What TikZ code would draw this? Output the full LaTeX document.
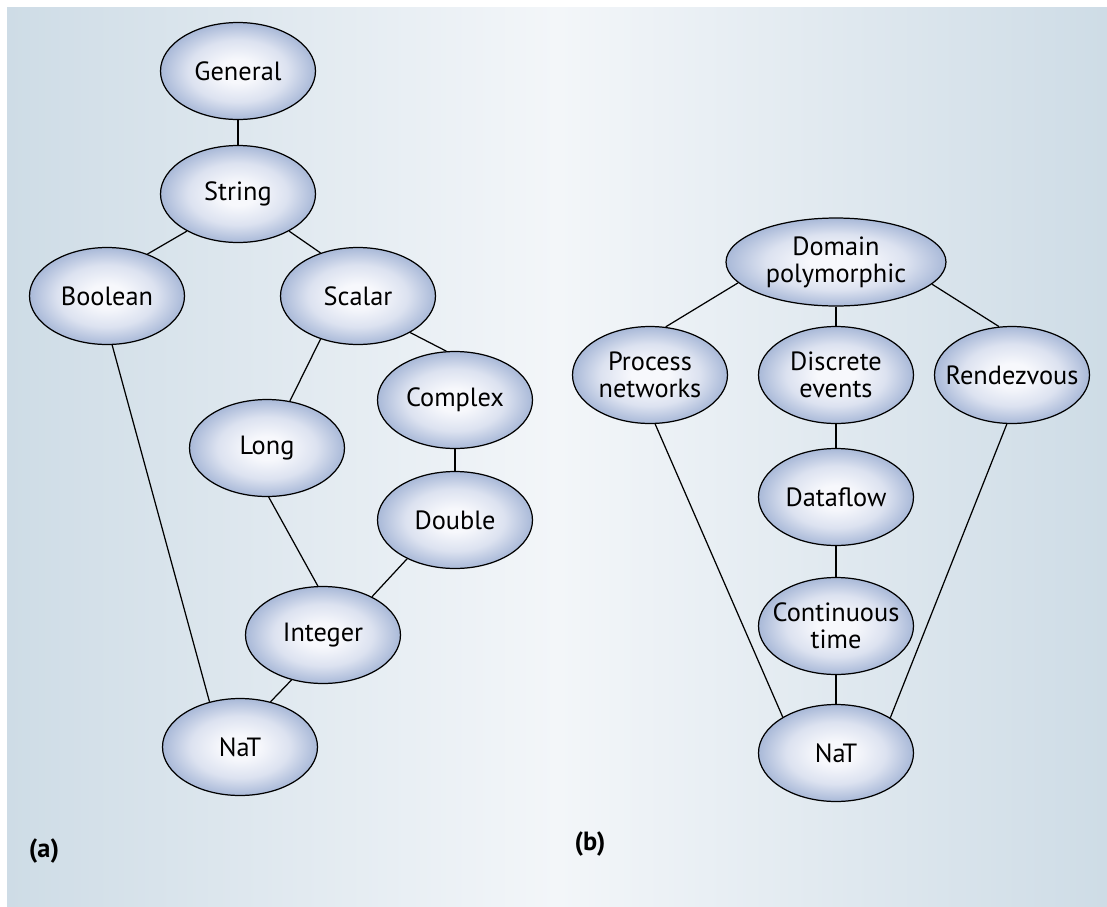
\documentclass[tikz,border=0pt]{standalone}
\usepackage{fontspec}
\setmainfont{PT Sans}
\usetikzlibrary{shapes.geometric}

\definecolor{ovalout}{HTML}{A9B9D8}
\definecolor{ovalmid}{HTML}{DCE2F0}
\definecolor{ovalin}{HTML}{F7F8FC}
\definecolor{bgside}{HTML}{CEDCE6}
\definecolor{bgmid}{HTML}{F3F6F9}

\pgfdeclareradialshading{ovalshade}{\pgfpoint{0bp}{0bp}}{%
  color(0bp)=(ovalin); color(6bp)=(ovalin); color(16bp)=(ovalmid);
  color(25bp)=(ovalout); color(50bp)=(ovalout)}

\tikzset{
  oval/.style={ellipse, draw=black, line width=0.7pt,
    inner xsep=-0.3cm, inner ysep=0pt,
    minimum width=3.1cm, minimum height=1.94cm, shading=ovalshade,
    align=center, font=\fontsize{15}{15.4}\selectfont},
  wide/.style={minimum width=4.4cm, minimum height=1.76cm},
  tag/.style={font=\fontsize{15}{15.4}\selectfont\bfseries},
  link/.style={line width=0.7pt}
}

\begin{document}
\begin{tikzpicture}[x=0.02cm,y=-0.02cm]
\useasboundingbox (0,0) rectangle (1107,907);
\fill[white] (0,0) rectangle (1107,907);
\shade[left color=bgside, right color=bgside, middle color=bgmid] (7,7) rectangle (1107,907);

% (a)
\node[oval] (gen)  at (238,71)  {General};
\node[oval] (str)  at (238,194) {String};
\node[oval] (bool) at (107,296) {Boolean};
\node[oval] (scal) at (358,296) {Scalar};
\node[oval] (cplx) at (455,400) {Complex};
\node[oval] (long) at (267,448) {Long};
\node[oval] (dbl)  at (455,520) {Double};
\node[oval] (int)  at (323,635) {Integer};
\node[oval] (nata) at (240,747) {NaT};
\node[tag] (laba) at (44,851) {(a)};

\foreach \a/\b in {gen.-90/str.90, str.-144/bool.46, str.-36/scal.131,
    scal.-131/long.64, scal.-35/cplx.100, cplx.-90/dbl.90,
    long.-88/int.96, dbl.-141/int.38, int.-125/nata.56, bool.-84/nata.124} {
  \draw[link] (\a) -- (\b);
}

% (b)
\node[oval,wide] (dom) at (836,262) {Domain\\polymorphic};
\node[oval] (pn)   at (650,375) {Process\\networks};
\node[oval] (de)   at (836,375) {Discrete\\events};
\node[oval] (rv)   at (1012,375) {Rendezvous};
\node[oval] (df)   at (836,497) {Dataflow};
\node[oval] (ct)   at (836,626) {Continuous\\time};
\node[oval] (natb) at (836,753) {NaT};
\node[tag] (labb) at (590,844) {(b)};

\foreach \a/\b in {dom.-168/pn.72, dom.-90/de.90, dom.-13/rv.105,
    de.-90/df.90, df.-90/ct.90, ct.-90/natb.90,
    pn.-84/natb.146, rv.-96/natb.33} {
  \draw[link] (\a) -- (\b);
}

\end{tikzpicture}
\end{document}
